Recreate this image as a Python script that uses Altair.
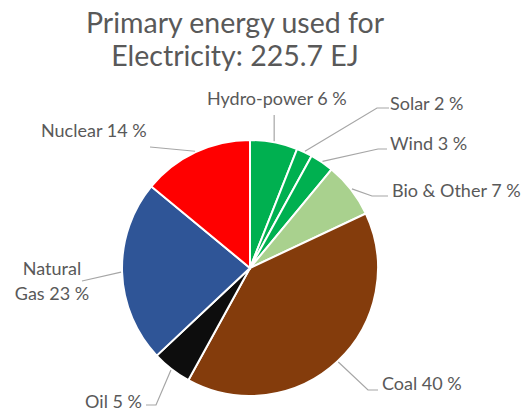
import math
import altair as alt
import pandas as pd

# ---- data ----
sources = ["Hydro-power", "Solar", "Wind", "Bio & Other", "Coal", "Oil", "Natural Gas", "Nuclear"]
shares = [6, 2, 3, 7, 40, 5, 23, 14]
labels = ["Hydro-power 6 %", "Solar 2 %", "Wind 3 %", "Bio & Other 7 %", "Coal 40 %", "Oil 5 %", "Natural\nGas 23 %", "Nuclear 14 %"]
title_lines = ["Primary energy used for", "Electricity: 225.7 EJ"]

# ---- style / layout ----
colors = ["#00B050", "#00B050", "#00B050", "#A9D18E", "#843C0C", "#0D0D0D", "#2F5597", "#FF0000"]
W, H = 523, 411
CX, CY, R = 250, 268, 128
# label anchor (x,y), align, and leader elbow / end points
label_pos = [(207, 100), (390, 105), (390, 145), (392, 192), (382, 385), (142, 403), (52, 270), (41, 132)]
label_align = ["left", "left", "left", "left", "left", "right", "center", "left"]
leader_pts = [
    [(None, 115)],
    [(377, 108), (389, 108)],
    [(378, 149), (387, 149)],
    [(372, 196), (388, 196)],
    [(368, 390), (378, 390)],
    [(156, 405), (146, 405)],
    [(82, 281)],
    [(150, 147)],
]

df = pd.DataFrame({"source": sources, "share": shares, "order": range(len(sources))})

# leader lines: start at slice mid-angle on pie edge
rows = []
total = sum(shares)
cum = 0
for i, (s, v) in enumerate(zip(sources, shares)):
    mid = (cum + v / 2) / total * 2 * math.pi
    cum += v
    sx = CX + (R + 1) * math.sin(mid)
    sy = CY - (R + 1) * math.cos(mid)
    rows.append({"source": s, "seq": 0, "px": sx, "py": sy})
    for j, (ex, ey) in enumerate(leader_pts[i]):
        rows.append({"source": s, "seq": j + 1, "px": sx if ex is None else ex, "py": ey})
lines_df = pd.DataFrame(rows)

lab_df = pd.DataFrame({
    "label": labels,
    "lx": [p[0] for p in label_pos],
    "ly": [p[1] for p in label_pos],
    "align": label_align,
})
title_df = pd.DataFrame({"t": title_lines, "tx": [235, 235], "ty": [24, 57]})

xs = alt.Scale(domain=[0, W], range=[0, W])
ys = alt.Scale(domain=[0, H], range=[0, H])

pie = alt.Chart(df).mark_arc(outerRadius=R, stroke="white", strokeWidth=2).encode(
    theta=alt.Theta("share:Q", stack=True),
    order=alt.Order("order:Q"),
    color=alt.Color("source:N", scale=alt.Scale(domain=sources, range=colors), legend=None),
    x=alt.value(CX),
    y=alt.value(CY),
)

leaders = alt.Chart(lines_df).mark_line(color="#A6A6A6", strokeWidth=1.2).encode(
    x=alt.X("px:Q", scale=xs, axis=None),
    y=alt.Y("py:Q", scale=ys, axis=None),
    detail="source:N",
    order="seq:Q",
)

def label_layer(align):
    return alt.Chart(lab_df[lab_df["align"] == align]).mark_text(
        align=align, baseline="middle", font="Lato", fontSize=18, color="#595959",
        lineBreak="\n", lineHeight=25,
    ).encode(x=alt.X("lx:Q", scale=xs, axis=None), y=alt.Y("ly:Q", scale=ys, axis=None), text="label:N")

title = alt.Chart(title_df).mark_text(
    align="center", baseline="middle", font="Lato", fontSize=28.5, color="#595959"
).encode(x=alt.X("tx:Q", scale=xs, axis=None), y=alt.Y("ty:Q", scale=ys, axis=None), text="t:N")

chart = alt.layer(
    pie, leaders, label_layer("left"), label_layer("right"), label_layer("center"), title
).properties(
    width=W, height=H, padding=0, autosize=alt.AutoSizeParams(type="none")
).configure_view(stroke=None)

chart.save("out.html", embed_options={"renderer": "svg", "actions": False})
